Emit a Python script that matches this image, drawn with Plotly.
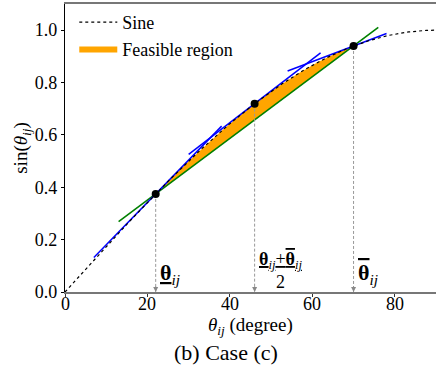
import numpy as np
import plotly.graph_objects as go

# key angles (degrees)
theta_lb = 22
theta_mid = 46
theta_ub = 70
key_angles = [theta_lb, theta_mid, theta_ub]
# tangent segment extents (degrees)
tangent_ranges = [[7, 38], [30, 62], [54, 78]]
# secant (green) extent
secant_range = [13, 76]
x_ticks = [0, 20, 40, 60, 80]
x_tick_text = ["0", "20", "40", "60", "80"]
y_ticks = [0.0, 0.2, 0.4, 0.6, 0.8, 1.0]
y_tick_text = ["0.0", "0.2", "0.4", "0.6", "0.8", "1.0"]

FONT = "Liberation Serif"

def s(d):
    return np.sin(np.deg2rad(d))

def ds(d):
    return np.cos(np.deg2rad(d)) * np.pi / 180

UL = '<span style="text-decoration:underline">'
OL = '<span style="text-decoration:overline">'
LB = UL + "<b>θ</b></span><sub><i>ij</i></sub>"
UB = OL + "<b>θ</b></span><sub><i>ij</i></sub>"

fig = go.Figure()

# feasible region: between sine curve and secant over [lb, ub]
xs = np.linspace(theta_lb, theta_ub, 200)
fx = list(xs) + [theta_ub, theta_lb]
fy = list(s(xs)) + [s(theta_ub), s(theta_lb)]
fig.add_trace(go.Scatter(x=fx, y=fy, fill="toself", fillcolor="#FFA500",
                         line=dict(width=0, color="#FFA500"), mode="lines",
                         name="Feasible region", legendrank=2))

# secant
slope = (s(theta_ub) - s(theta_lb)) / (theta_ub - theta_lb)
sx = np.array(secant_range, dtype=float)
fig.add_trace(go.Scatter(x=sx, y=s(theta_lb) + slope * (sx - theta_lb), mode="lines",
                         line=dict(color="#008000", width=1.6), showlegend=False))

# tangents
for a, (x0, x1) in zip(key_angles, tangent_ranges):
    tx = np.array([x0, x1], dtype=float)
    fig.add_trace(go.Scatter(x=tx, y=s(a) + ds(a) * (tx - a), mode="lines",
                             line=dict(color="#0000FF", width=1.5), showlegend=False))

# sine curve
xx = np.linspace(0, 90, 300)
fig.add_trace(go.Scatter(x=xx, y=s(xx), mode="lines", name="Sine",
                         line=dict(color="black", width=1.2, dash="dot"), legendrank=1))

# vertical dashed guides
for a in key_angles:
    fig.add_trace(go.Scatter(x=[a, a], y=[s(a), 0], mode="lines",
                             line=dict(color="#999999", width=1, dash="3px,2px"), showlegend=False))
    fig.add_annotation(x=a, y=0, ax=0, ay=-7, xref="x", yref="y", showarrow=True,
                       arrowhead=2, arrowsize=1, arrowwidth=1, arrowcolor="#888888", text="")

# points
fig.add_trace(go.Scatter(x=key_angles, y=[s(a) for a in key_angles], mode="markers",
                         marker=dict(color="black", size=8), showlegend=False))

# labels
fig.add_annotation(x=theta_lb, y=0.0, xref="x", yref="y", xanchor="left", yanchor="bottom",
                   xshift=2, yshift=2, showarrow=False, text=LB,
                   font=dict(family=FONT, size=22, color="black"))
fig.add_annotation(x=theta_mid, y=0.0, xref="x", yref="y", xanchor="left", yanchor="bottom",
                   xshift=2, yshift=-2, showarrow=False,
                   text=UL + LB + "+" + UB + "</span><br>2",
                   font=dict(family=FONT, size=18, color="black"))
fig.add_annotation(x=theta_ub, y=0.0, xref="x", yref="y", xanchor="left", yanchor="bottom",
                   xshift=2, yshift=2, showarrow=False, text=UB,
                   font=dict(family=FONT, size=22, color="black"))

# x tick labels (placed close to the axis)
for v, t in zip(x_ticks, x_tick_text):
    fig.add_annotation(x=v, y=0, xref="x", yref="y", showarrow=False, text=t,
                       yanchor="top", yshift=-1, borderpad=0,
                       font=dict(family=FONT, size=18, color="black"))

# x-axis title and caption
fig.add_annotation(x=0.5, y=-0.117, xref="paper", yref="paper", showarrow=False,
                   text="<i>θ</i><sub><i>ij</i></sub> (degree)", borderpad=0,
                   font=dict(family=FONT, size=19, color="black"), yanchor="middle")
fig.add_annotation(x=0.435, y=-0.21, xref="paper", yref="paper", showarrow=False,
                   text="(b) Case (c)", font=dict(family=FONT, size=22, color="black"),
                   yanchor="middle")

fig.update_layout(
    width=438, height=373,
    margin=dict(l=65, r=2, t=2, b=81),
    plot_bgcolor="white", paper_bgcolor="white",
    font=dict(family=FONT, size=17, color="black"),
    showlegend=True,
    legend=dict(x=0.025, y=1.0, xanchor="left", yanchor="top", bgcolor="rgba(255,255,255,0)",
                font=dict(family=FONT, size=18), itemwidth=38),
)
fig.update_xaxes(range=[0, 90], tickvals=x_ticks, showgrid=False, zeroline=False,
                 showline=True, linecolor="#777777", linewidth=2, mirror=True,
                 ticks="outside", ticklen=3, tickcolor="#333333", showticklabels=False)
fig.update_yaxes(range=[0, 1.1], tickvals=y_ticks, ticktext=y_tick_text, showgrid=False,
                 zeroline=False, showline=True, linecolor="black", linewidth=1.2,
                 ticks="outside", ticklen=3, tickcolor="black",
                 title=dict(text="sin(<i>θ</i><sub><i>ij</i></sub>)", standoff=2,
                            font=dict(family=FONT, size=19)),
                 tickfont=dict(family=FONT, size=18))

fig.write_html("out.html", post_script="document.body.style.margin='0';",
               config={"displayModeBar": False})
